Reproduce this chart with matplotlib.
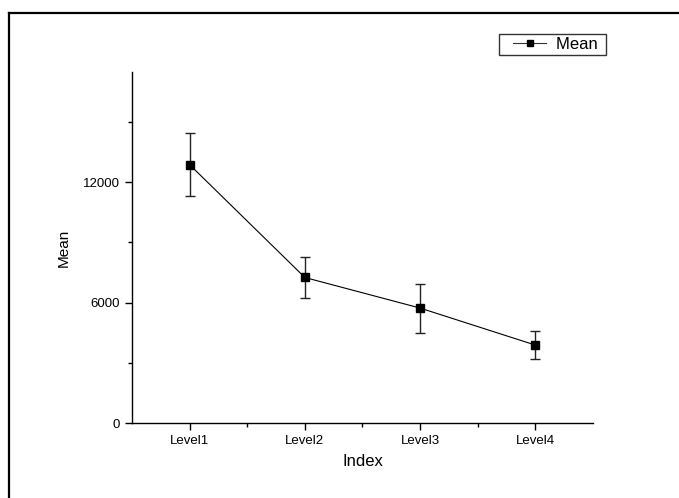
import numpy as np
import matplotlib
matplotlib.use("Agg")
import matplotlib.pyplot as plt
from matplotlib.lines import Line2D
from matplotlib.legend_handler import HandlerLine2D

plt.rcParams['font.family'] = ['Liberation Sans', 'DejaVu Sans']

levels = ['Level1', 'Level2', 'Level3', 'Level4']
means = [12880, 7255, 5730, 3885]
errors = [1580, 1020, 1220, 680]


class PaddedHandler(HandlerLine2D):
    # leaves some blank space to the left of the legend handle
    def create_artists(self, legend, orig_handle, xdescent, ydescent,
                       width, height, fontsize, trans):
        pad = 8
        return super().create_artists(legend, orig_handle, xdescent - pad,
                                      ydescent, width - pad, height,
                                      fontsize, trans)


fig = plt.figure(figsize=(6.79, 4.98), dpi=100)
ax = fig.add_axes([0.1944, 0.1506, 0.6789, 0.7048])

x = np.arange(1, len(levels) + 1)
ax.errorbar(x, means, yerr=errors, color='black', ecolor='#222222',
            elinewidth=1.0, capsize=3.5, capthick=1.0,
            marker='s', markersize=6, linewidth=0.8)

ax.set_xlim(0.5, 4.5)
ax.set_ylim(0, 17500)
ax.set_xticks(x)
ax.set_xticklabels(levels)
ax.set_xticks([1.5, 2.5, 3.5], minor=True)
ax.set_yticks([0, 6000, 12000])
ax.set_yticks([3000, 9000, 15000], minor=True)

for s in ['top', 'right']:
    ax.spines[s].set_visible(False)
for s in ['left', 'bottom']:
    ax.spines[s].set_linewidth(1.0)
ax.tick_params(which='major', direction='out', length=5, width=1.0, labelsize=9.5)
ax.tick_params(which='minor', direction='out', length=3, width=1.0)

ax.set_xlabel('Index', fontsize=12, labelpad=5)
ax.set_ylabel('Mean', fontsize=11, labelpad=9)

# legend handle: smaller marker than the plotted points
handle = Line2D([], [], color='#333333', linewidth=0.8, marker='s',
                markersize=4.5, markerfacecolor='black', markeredgecolor='black')
leg = ax.legend([handle], ['Mean '], loc='upper right',
                handler_map={Line2D: PaddedHandler()},
                bbox_to_anchor=(606 / 679, 1 - 33.5 / 498),
                bbox_transform=fig.transFigure, fontsize=12,
                frameon=True, fancybox=False, edgecolor='black',
                handlelength=2.65, borderpad=0.2, handletextpad=0.6,
                borderaxespad=0)
leg.get_frame().set_linewidth(1.0)

# outer frame (only top and left are visible in the cropped screenshot)
fig.add_artist(Line2D([9 / 679, 9 / 679], [0, 1 - 13 / 498], color='black',
                      linewidth=1.6, transform=fig.transFigure))
fig.add_artist(Line2D([9 / 679, 1], [1 - 13 / 498, 1 - 13 / 498], color='black',
                      linewidth=1.6, transform=fig.transFigure))

fig.savefig('out.png', dpi=100)
